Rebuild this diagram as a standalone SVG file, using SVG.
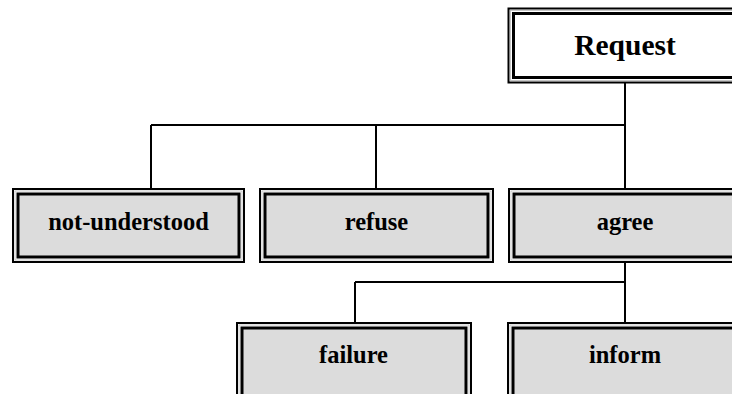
<svg xmlns="http://www.w3.org/2000/svg" width="732" height="394" viewBox="0 0 732 394">
  <style>
    .outer { fill: #ffffff; stroke: #000000; stroke-width: 2; }
    .inner { stroke: #000000; stroke-width: 3; }
    .plain .inner { fill: #ffffff; }
    .shaded .inner { fill: #dcdcdc; }
    .halo { fill: none; stroke: #b8b8b8; stroke-width: 0.8; }
    .label { font-family: "Liberation Serif", "Times New Roman", serif; font-weight: bold; font-size: 24.5px; fill: #000000; text-anchor: middle; }
    .title { font-size: 29.5px; }
    .wire { fill: none; stroke: #000000; stroke-width: 2; }
  </style>
  <rect width="732" height="394" fill="#ffffff"/>

  <g id="connectors">
    <path class="wire" d="M625,83 V125 M151,125 H625 M151,125 V189 M376,125 V189 M625,125 V189"/>
    <path class="wire" d="M625,262 V323 M355,282 H625 M355,282 V323"/>
  </g>

  <g id="request" class="plain">
    <rect class="outer" x="508.5" y="8.5" width="234" height="74"/>
    <rect class="halo" x="510.5" y="10.5" width="230" height="70"/>
    <rect class="inner" x="513.5" y="13.5" width="224" height="64"/>
    <text class="label title" x="625" y="55">Request</text>
  </g>

  <g id="not-understood" class="shaded">
    <rect class="outer" x="13" y="189" width="231" height="73"/>
    <rect class="halo" x="15" y="191" width="227" height="69"/>
    <rect class="inner" x="18" y="194" width="221" height="63"/>
    <text class="label" x="128.5" y="230">not-understood</text>
  </g>

  <g id="refuse" class="shaded">
    <rect class="outer" x="260" y="189" width="233" height="73"/>
    <rect class="halo" x="262" y="191" width="229" height="69"/>
    <rect class="inner" x="265" y="194" width="223" height="63"/>
    <text class="label" x="376.5" y="230">refuse</text>
  </g>

  <g id="agree" class="shaded">
    <rect class="outer" x="509" y="189" width="233" height="73"/>
    <rect class="halo" x="511" y="191" width="229" height="69"/>
    <rect class="inner" x="514" y="194" width="223" height="63"/>
    <text class="label" x="625" y="230">agree</text>
  </g>

  <g id="failure" class="shaded">
    <rect class="outer" x="237" y="323" width="234" height="80"/>
    <rect class="halo" x="239" y="325" width="230" height="76"/>
    <rect class="inner" x="242" y="328" width="224" height="70"/>
    <text class="label" x="353.5" y="363">failure</text>
  </g>

  <g id="inform" class="shaded">
    <rect class="outer" x="508" y="323" width="234" height="80"/>
    <rect class="halo" x="510" y="325" width="230" height="76"/>
    <rect class="inner" x="513" y="328" width="224" height="70"/>
    <text class="label" x="625" y="363">inform</text>
  </g>
</svg>
